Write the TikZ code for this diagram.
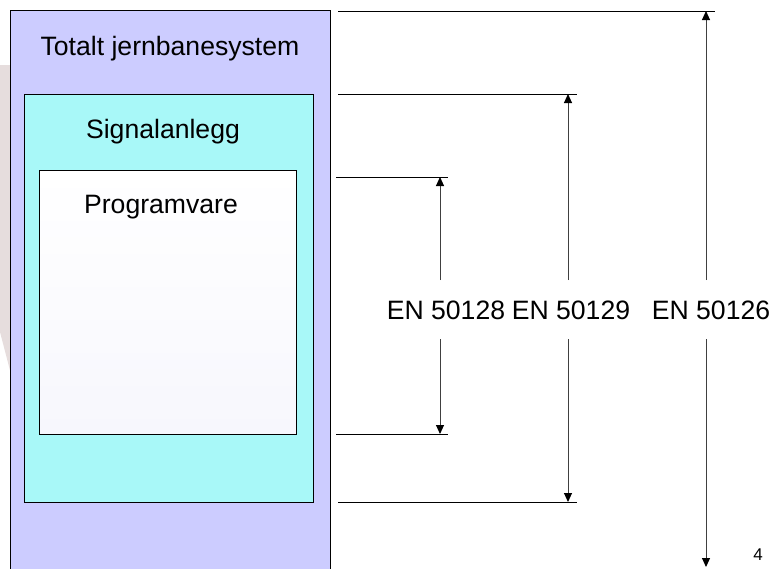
\documentclass[tikz,border=0pt]{standalone}
\usepackage{fontspec}
\setmainfont{Liberation Sans}
\usetikzlibrary{arrows.meta}
\definecolor{sysfill}{HTML}{CCCCFF}
\definecolor{sigfill}{HTML}{A8F8F8}
\definecolor{swfill}{HTML}{F7F7FD}
\definecolor{bgpink}{HTML}{E6DDDD}

\begin{document}
\begin{tikzpicture}[x=1pt, y=-1pt,
	every node/.style={font=\fontsize{26.6}{31}\selectfont, inner sep=0pt},
	box/.style={draw=black, line width=1.2pt, rectangle, anchor=north west},
	std/.style={anchor=base, inner ysep=20pt},
	lim/.style={draw=black, line width=1pt},
	dim/.style={draw=black!75, line width=1pt, -{Triangle[length=9pt,width=8pt,color=black]}}]
		\useasboundingbox (0,0) rectangle (775,568);
		\clip (0,0) rectangle (775,568);
		\fill[bgpink] (0,65) -- (12,65) -- (12,378) -- (0,332) -- cycle;
		
		\node[box, fill=sysfill, minimum width=320pt, minimum height=600pt] (sys) at (10,10){};
		\node[box, fill=sigfill, minimum width=289pt, minimum height=408pt] (sig) at (24,94){};
		\node[box, top color=white, bottom color=swfill, minimum width=257pt, minimum height=264pt] (sw) at (39,170){};
		
		\node[anchor=base] (syslbl) at (170,55){Totalt jernbanesystem};
		\node[anchor=base] (siglbl) at (163,138){Signalanlegg};
		\node[anchor=base] (swlbl) at (161,213){Programvare};
		
		\node[std] (en28) at (446,319){EN 50128};
		\node[std] (en29) at (571,319){EN 50129};
		\node[std] (en26) at (711,319){EN 50126};
		\node[anchor=base, font=\fontsize{17}{20}\selectfont] (page) at (758,560){4};
		
		\coordinate (i1) at (336,177);
		\coordinate (i2) at (448,177);
		\coordinate (i3) at (336,434);
		\coordinate (i4) at (448,434);
		\coordinate (ia) at (440,177);
		\coordinate (ib) at (440,434);
		
		\coordinate (m1) at (338,94);
		\coordinate (m2) at (577,94);
		\coordinate (m3) at (338,502);
		\coordinate (m4) at (577,502);
		\coordinate (ma) at (568,94);
		\coordinate (mb) at (568,502);
		
		\coordinate (o1) at (338,11);
		\coordinate (o2) at (715,11);
		\coordinate (oa) at (706,11);
		\coordinate (ob) at (706,567);
		
		\path (i1) edge[lim] (i2);
		\path (i3) edge[lim] (i4);
		\path (m1) edge[lim] (m2);
		\path (m3) edge[lim] (m4);
		\path (o1) edge[lim] (o2);
		
		\path (en28.north -| ia) edge[dim] (ia);
		\path (en28.south -| ib) edge[dim] (ib);
		\path (en29.north -| ma) edge[dim] (ma);
		\path (en29.south -| mb) edge[dim] (mb);
		\path (en26.north -| oa) edge[dim] (oa);
		\path (en26.south -| ob) edge[dim] (ob);
\end{tikzpicture}
\end{document}
